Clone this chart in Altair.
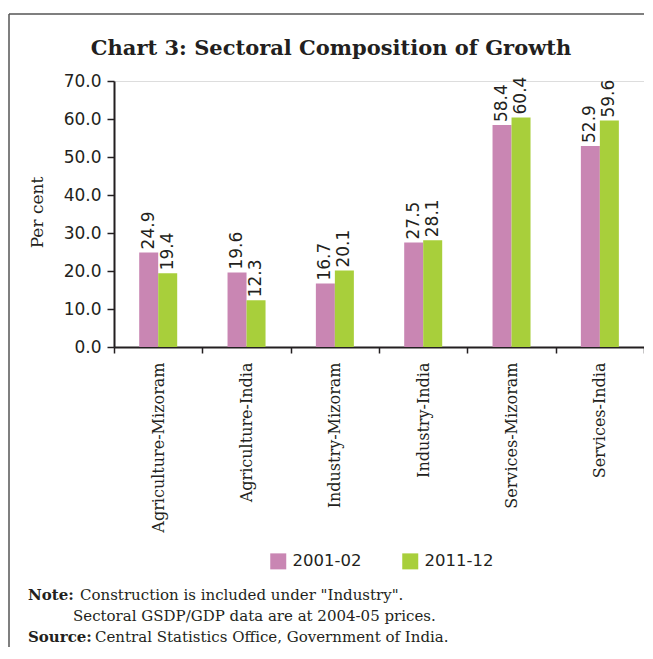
import altair as alt
import pandas as pd

categories = ["Agriculture-Mizoram", "Agriculture-India", "Industry-Mizoram",
              "Industry-India", "Services-Mizoram", "Services-India"]
periods = ["2001-02", "2011-12"]
values_2001 = [24.9, 19.6, 16.7, 27.5, 58.4, 52.9]
values_2011 = [19.4, 12.3, 20.1, 28.1, 60.4, 59.6]
colors = ["#C986B3", "#A8CF3B"]
y_ticks = [0, 10, 20, 30, 40, 50, 60, 70]

rows = []
for c, a, b in zip(categories, values_2001, values_2011):
    rows.append({"category": c, "period": periods[0], "value": a})
    rows.append({"category": c, "period": periods[1], "value": b})
df = pd.DataFrame(rows)
one = pd.DataFrame({"k": [0]})

TXT = "#231F20"
SERIF = "DejaVu Serif"
SANS = "DejaVu Sans"

x_axis = alt.Axis(title=None, labelAngle=270, labelFont=SERIF,
                  labelFontSize=16, labelColor=TXT, tickSize=6,
                  labelPadding=9, tickBand="extent", domainColor=TXT,
                  domainWidth=2, tickColor=TXT, tickWidth=1.5,
                  labelAlign="right", labelBaseline="middle",
                  labelOverlap=False)
y_axis = alt.Axis(title="Per cent", values=y_ticks, format=".1f",
                  labelFont=SANS, labelFontSize=17, labelColor=TXT,
                  labelOverlap=False,
                  tickSize=7, labelPadding=6, domainColor=TXT,
                  domainWidth=2, tickColor=TXT, tickWidth=1.5,
                  grid=False, titleFont=SERIF, titleFontSize=17,
                  titleFontWeight="normal", titleColor=TXT,
                  titleAngle=270, titleX=-77, titleY=131,
                  titleAlign="center", titleBaseline="middle")

x_enc = alt.X("category:N", sort=categories,
              scale=alt.Scale(paddingInner=0, paddingOuter=0), axis=x_axis)
xo_enc = alt.XOffset("period:N", sort=periods,
                     scale=alt.Scale(paddingInner=0, paddingOuter=0,
                                     range=[25.2, 63.2]))
y_enc = alt.Y("value:Q", scale=alt.Scale(domain=[0, 70], nice=False),
              axis=y_axis)

bars = alt.Chart(df).mark_bar().encode(
    x=x_enc, xOffset=xo_enc, y=y_enc,
    color=alt.Color("period:N", sort=periods,
                    scale=alt.Scale(domain=periods, range=colors),
                    legend=alt.Legend(title=None, orient="none", legendX=156,
                                      legendY=472, direction="horizontal",
                                      symbolType="square", symbolSize=256,
                                      symbolStrokeWidth=0, labelFont=SANS,
                                      labelFontSize=16.5, labelColor=TXT,
                                      columnPadding=40, labelOffset=6,
                                      padding=0))
)

labels = alt.Chart(df).mark_text(angle=270, align="left", baseline="middle",
                                 dx=3, font=SANS, fontSize=17,
                                 color=TXT).encode(
    x=x_enc, xOffset=xo_enc, y=y_enc,
    text=alt.Text("value:Q", format=".1f"))

def txt(s, x, y, bold=False, size=15, align="left", font=SERIF):
    return alt.Chart(one).mark_text(align=align, baseline="alphabetic",
                                    font=font, fontSize=size,
                                    fontWeight="bold" if bold else "normal",
                                    color=TXT).encode(
        x=alt.value(x), y=alt.value(y), text=alt.value(s))

title = txt("Chart 3: Sectoral Composition of Growth", 217, -26, bold=True,
            size=21, align="center")
n1 = txt("Note:", -86, 519, bold=True)
n2 = txt("Construction is included under \"Industry\".", -34, 519)
n3 = txt("Sectoral GSDP/GDP data are at 2004-05 prices.", -41, 540)
n4 = txt("Source:", -86, 561, bold=True)
n5 = txt("Central Statistics Office, Government of India.", -19, 561)

frame_top = alt.Chart(one).mark_rule(color="#555555", strokeWidth=1.5).encode(
    x=alt.value(-105), x2=alt.value(535), y=alt.value(-67))
frame_left = alt.Chart(one).mark_rule(color="#555555", strokeWidth=1.5).encode(
    x=alt.value(-105), y=alt.value(-67), y2=alt.value(600))

chart = alt.layer(bars, labels, title, n1, n2, n3, n4, n5, frame_top,
                  frame_left).properties(
    width=530, height=266,
    autosize=alt.AutoSizeParams(type="none"),
    padding={"left": 106, "top": 73, "right": 0, "bottom": 300},
).configure_view(stroke=None).configure(background="white")

chart.save("out.html", embed_options={"renderer": "svg", "actions": False})
